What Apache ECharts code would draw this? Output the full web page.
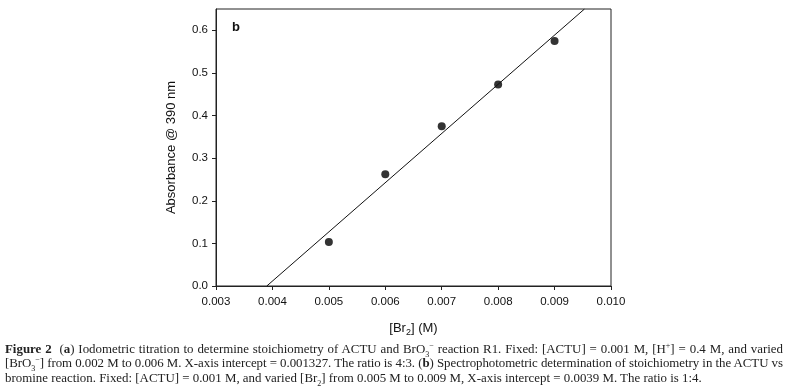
<!DOCTYPE html>
<html>
<head>
<meta charset="utf-8">
<script src="https://cdn.jsdelivr.net/npm/echarts@6/dist/echarts.min.js"></script>
<style>
  html, body { margin: 0; padding: 0; background: #fff; }
  #wrap { position: relative; width: 787px; height: 388px; overflow: hidden; }
  #chart { position: absolute; left: 0; top: 0; width: 787px; height: 388px; }
  #caption {
    position: absolute; left: 5px; top: 342px; width: 778px;
    font-family: 'Liberation Serif', 'DejaVu Serif', serif;
    font-size: 12.9px; line-height: 14.3px; color: #222;
  }
  #caption .j { text-align: justify; text-align-last: justify; white-space: nowrap; overflow: visible; }
  #caption sub, #caption sup { font-size: 8px; line-height: 0; }
</style>
</head>
<body>
<div id="wrap">
  <div id="chart"></div>
  <div id="caption">
    <div class="j"><b>Figure 2</b>&nbsp; (<b>a</b>) Iodometric titration to determine stoichiometry of ACTU and BrO<sub>3</sub><sup>&minus;</sup> reaction R1. Fixed: [ACTU] = 0.001 M, [H<sup>+</sup>] = 0.4 M, and varied</div>
    <div class="j">[BrO<sub>3</sub><sup>&minus;</sup>] from 0.002 M to 0.006 M. X-axis intercept = 0.001327. The ratio is 4:3. (<b>b</b>) Spectrophotometric determination of stoichiometry in the ACTU vs</div>
    <div>bromine reaction. Fixed: [ACTU] = 0.001 M, and varied [Br<sub>2</sub>] from 0.005 M to 0.009 M, X-axis intercept = 0.0039 M. The ratio is 1:4.</div>
  </div>
</div>
<script>
// measured points
const brConc = [0.005, 0.006, 0.007, 0.008, 0.009];
const absorbance = [0.103, 0.262, 0.375, 0.473, 0.575];
// fitted line ends (x-intercept 0.0039, leaves the top of the frame)
const fitX = [0.0039, 0.00953];
const fitY = [0.0, 0.65];
// axis ticks
const yTicks = [0, 0.1, 0.2, 0.3, 0.4, 0.5, 0.6];

// squeeze the justified caption lines if they run past the box
document.querySelectorAll('#caption .j').forEach(line => {
  let ls = 0;
  while (line.scrollWidth > line.clientWidth + 0.5 && ls > -1) {
    ls -= 0.05;
    line.style.letterSpacing = ls + 'px';
  }
});

const chart = echarts.init(document.getElementById('chart'));
const axisColor = '#222';
const labelFont = 'Liberation Sans, Arial, sans-serif';

const option = {
  animation: false,
  grid: {
    left: 216,
    top: 9,
    right: 176,
    bottom: 102,
    show: true,
    borderColor: axisColor,
    borderWidth: 1,
  },
  graphic: [
    {
      type: 'text',
      left: 232,
      top: 21,
      style: { text: 'b', font: 'bold 13px ' + labelFont, fill: '#111' },
    },
  ],
  xAxis: {
    type: 'value',
    min: 0.003,
    max: 0.010,
    interval: 0.001,
    name: '[Br{sub|2}] (M)',
    nameLocation: 'middle',
    nameGap: 34,
    nameTextStyle: {
      fontFamily: labelFont,
      fontSize: 13,
      color: '#111',
      rich: {
        sub: { fontSize: 9, fontFamily: labelFont, color: '#111', verticalAlign: 'bottom', padding: [8, 0, 0, 0] },
      },
    },
    axisLine: { lineStyle: { color: axisColor, width: 1 } },
    axisTick: { show: true, inside: false, length: 4, lineStyle: { color: axisColor } },
    axisLabel: {
      margin: 10,
      fontFamily: labelFont,
      fontSize: 11.5,
      color: '#111',
      formatter: v => v.toFixed(3),
    },
    splitLine: { show: false },
  },
  yAxis: {
    type: 'value',
    min: 0,
    max: 0.65,
    name: 'Absorbance @ 390 nm',
    nameLocation: 'middle',
    nameGap: 38,
    nameTextStyle: { fontFamily: labelFont, fontSize: 13, color: '#111' },
    axisLine: { lineStyle: { color: axisColor, width: 1 } },
    axisTick: { show: true, inside: false, length: 4, lineStyle: { color: axisColor }, customValues: yTicks },
    axisLabel: {
      margin: 8,
      fontFamily: labelFont,
      fontSize: 11.5,
      color: '#111',
      customValues: yTicks,
      formatter: v => v.toFixed(1),
    },
    splitLine: { show: false },
  },
  series: [
    {
      type: 'line',
      data: fitX.map((x, i) => [x, fitY[i]]),
      showSymbol: false,
      symbol: 'none',
      lineStyle: { color: '#111', width: 1 },
      silent: true,
    },
    {
      type: 'scatter',
      data: brConc.map((x, i) => [x, absorbance[i]]),
      symbol: 'circle',
      symbolSize: 8,
      itemStyle: { color: '#000' },
    },
  ],
};

chart.setOption(option);
</script>
</body>
</html>
